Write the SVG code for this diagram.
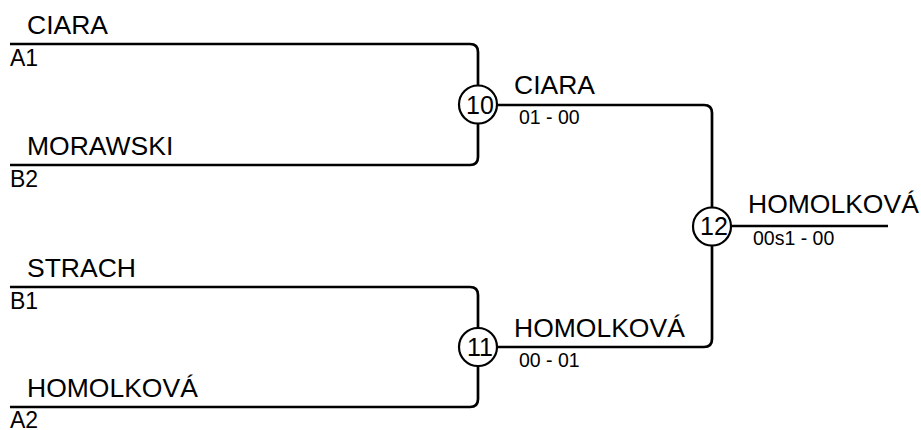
<svg xmlns="http://www.w3.org/2000/svg" width="921" height="430" viewBox="0 0 921 430">
<style>
.ln{fill:none;stroke:#000;stroke-width:2.7;stroke-linejoin:round}
.nm{font-family:"Liberation Sans",Arial,sans-serif;font-size:26.5px;fill:#000}
.sd{font-family:"Liberation Sans",Arial,sans-serif;font-size:23px;fill:#000}
.sc{font-family:"Liberation Sans",Arial,sans-serif;font-size:19.5px;fill:#000}
.cn{fill:#fff;stroke:#000;stroke-width:2.2}
.num{font-family:"Liberation Sans",Arial,sans-serif;font-size:25px;fill:#000;text-anchor:middle}
</style>
<rect width="921" height="430" fill="#fff"/>
<g id="connectors">
<path class="ln" d="M10,44 H470 Q478,44 478,52 V157 Q478,165 470,165 H10"/>
<path class="ln" d="M10,287 H470 Q478,287 478,295 V399 Q478,407 470,407 H10"/>
<path class="ln" d="M478,105 H704 Q712,105 712,113 V339 Q712,347 704,347 H478"/>
<path class="ln" d="M712,226 H888"/>
</g>
<g id="entry-a1">
<text class="nm" x="27" y="34">CIARA</text>
<text class="sd" x="10" y="66">A1</text>
</g>
<g id="entry-b2">
<text class="nm" x="27" y="155">MORAWSKI</text>
<text class="sd" x="10" y="187">B2</text>
</g>
<g id="entry-b1">
<text class="nm" x="27" y="277">STRACH</text>
<text class="sd" x="10" y="309">B1</text>
</g>
<g id="entry-a2">
<text class="nm" x="27" y="397">HOMOLKOVÁ</text>
<text class="sd" x="10" y="428">A2</text>
</g>
<g id="match-10">
<circle class="cn" cx="478" cy="104.5" r="19"/>
<text class="num" x="480" y="113.5">10</text>
<text class="nm" x="514" y="94">CIARA</text>
<text class="sc" x="519" y="124">01 - 00</text>
</g>
<g id="match-11">
<circle class="cn" cx="478" cy="347" r="19"/>
<text class="num" x="480" y="356">11</text>
<text class="nm" x="514" y="337">HOMOLKOVÁ</text>
<text class="sc" x="519" y="367">00 - 01</text>
</g>
<g id="match-12">
<circle class="cn" cx="712" cy="226.5" r="19"/>
<text class="num" x="714" y="235">12</text>
<text class="nm" x="748" y="213">HOMOLKOVÁ</text>
<text class="sc" x="753" y="245">00s1 - 00</text>
</g>
</svg>
